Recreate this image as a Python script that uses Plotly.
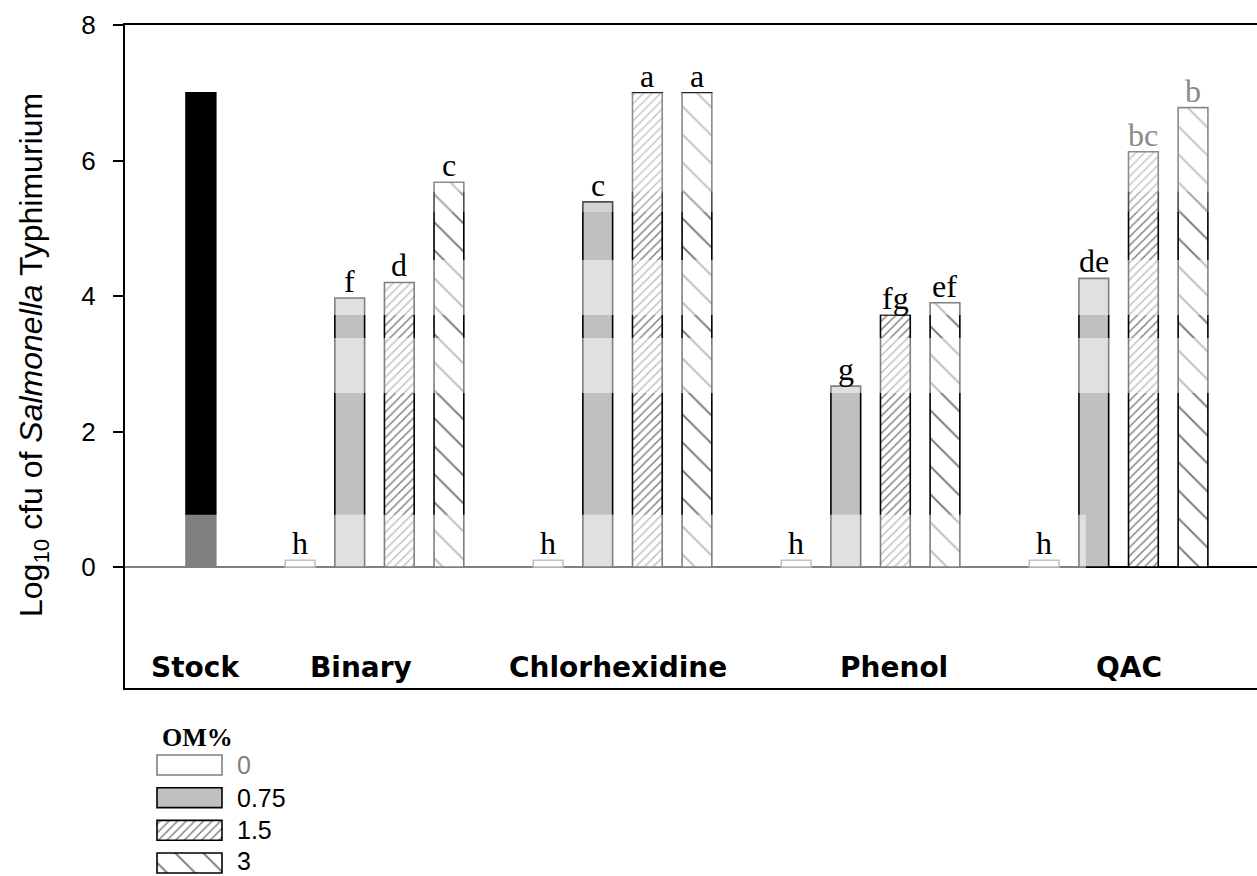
import plotly.graph_objects as go

W, H = 1257, 876

# ---------------- data ----------------
groups = ["Binary", "Chlorhexidine", "Phenol", "QAC"]
om_levels = ["0", "0.75", "1.5", "3"]
stock_label = "Stock"
stock_value = [7.0]

om_0 = [0.10, 0.10, 0.10, 0.10]
om_075 = [3.97, 5.39, 2.67, 4.26]
om_15 = [4.20, 7.00, 3.72, 6.13]
om_3 = [5.68, 7.00, 3.90, 6.78]

letters_0 = ["h", "h", "h", "h"]
letters_075 = ["f", "c", "g", "de"]
letters_15 = ["d", "a", "fg", "bc"]
letters_3 = ["c", "a", "ef", "b"]

y_ticks = [0, 2, 4, 6, 8]

# ---------------- layout helpers ----------------
series_vals = [om_0, om_075, om_15, om_3]
series_letters = [letters_0, letters_075, letters_15, letters_3]
letter_colors = [["black"] * 4, ["black"] * 4, ["black", "black", "black", "#8a8a8a"],
                 ["black", "black", "black", "#8a8a8a"]]

def slot(gi, si):
    return 2 + 5 * gi + si

styles = [
    dict(color="white", line=dict(color="#808080", width=1.6)),
    dict(color="#c0c0c0", line=dict(color="black", width=1.6)),
    dict(color="white", line=dict(color="black", width=1.6),
         pattern=dict(shape="/", fgcolor="black", bgcolor="white", size=6.1,
                      solidity=0.24, fillmode="overlay")),
    dict(color="white", line=dict(color="black", width=1.6),
         pattern=dict(shape="\\", fgcolor="black", bgcolor="white", size=19.8,
                      solidity=0.1, fillmode="overlay")),
]

BAR_W = 0.6
fig = go.Figure()

# stock bar
fig.add_trace(go.Bar(x=[0], y=stock_value, width=BAR_W,
                     marker=dict(color="black", line=dict(color="black", width=1.6)),
                     showlegend=False, xaxis="x", yaxis="y"))

for si, vals in enumerate(series_vals):
    xs = [slot(gi, si) for gi in range(len(groups))]
    fig.add_trace(go.Bar(x=xs, y=vals, width=BAR_W, marker=styles[si],
                         name=om_levels[si], showlegend=False, xaxis="x", yaxis="y"))

annotations = []
for si, vals in enumerate(series_vals):
    for gi, v in enumerate(vals):
        annotations.append(dict(x=slot(gi, si), y=v, xref="x", yref="y",
                                text=series_letters[si][gi], showarrow=False,
                                yanchor="bottom", yshift=-3,
                                font=dict(family="Liberation Serif, Times New Roman", size=32,
                                          color=letter_colors[si][gi])))

# group labels
group_label_x = [3.23, 8.4, 13.97, 18.7]
label_y = -1.49
annotations.append(dict(x=-0.1, y=label_y, xref="x", yref="y", text="<b>" + stock_label + "</b>",
                        showarrow=False, font=dict(family="DejaVu Sans", size=28, color="black")))
for gi, g in enumerate(groups):
    annotations.append(dict(x=group_label_x[gi], y=label_y, xref="x", yref="y",
                            text="<b>" + g + "</b>", showarrow=False,
                            font=dict(family="DejaVu Sans", size=28, color="black")))

# y title
annotations.append(dict(x=33 / W, y=(H - 355) / H, xref="paper", yref="paper",
                        text="Log<sub>10</sub> cfu of <i>Salmonella</i> Typhimurium",
                        textangle=-90, showarrow=False, xanchor="center", yanchor="middle",
                        font=dict(family="Liberation Sans, Arial", size=32, color="black")))

# ---------------- legend (drawn as a small subplot) ----------------
leg_rows = [0, 1, 2, 3]
leg_row_px = [765, 797.7, 830.3, 861]
for si in range(4):
    fig.add_trace(go.Bar(y=[leg_rows[si]], x=[1], orientation="h", width=0.61,
                         marker=styles[si], showlegend=False, xaxis="x2", yaxis="y2"))

annotations.append(dict(x=160 / W, y=(H - 737) / H, xref="paper", yref="paper",
                        text="<b>OM%</b>", showarrow=False, xanchor="left", yanchor="middle",
                        font=dict(family="Liberation Serif, Times New Roman", size=26, color="black")))
legend_text_colors = ["#808080", "black", "black", "black"]
for si, lab in enumerate(om_levels):
    annotations.append(dict(x=235 / W, y=(H - leg_row_px[si]) / H, xref="paper", yref="paper",
                            text=lab, showarrow=False, xanchor="left", yanchor="middle",
                            font=dict(family="Liberation Sans, Arial", size=25,
                                      color=legend_text_colors[si])))

# ---------------- light rendering bands of the original ----------------
band_y = [(5.54, 7.0, 0.55), (5.24, 5.54, 0.3), (3.72, 4.53, 0.5), (2.57, 3.38, 0.5)]
band_x = (1.6, 20.45)
shapes = []
for y0, y1, op in band_y:
    shapes.append(dict(type="rect", xref="x", yref="y", x0=band_x[0], x1=band_x[1],
                       y0=y0, y1=y1, fillcolor="white", opacity=op, line=dict(width=0),
                       layer="above"))
shapes.append(dict(type="rect", xref="x", yref="y", x0=-1.75, x1=17.84, y0=-0.04, y1=0.77,
                   fillcolor="white", opacity=0.5, line=dict(width=0), layer="above"))

fig.update_layout(
    width=W, height=H, template="none",
    margin=dict(l=0, r=0, t=0, b=0),
    paper_bgcolor="white", plot_bgcolor="white",
    barmode="overlay", showlegend=False,
    xaxis=dict(domain=[125 / W, 1.0], range=[-1.53, 21.29], showgrid=False, zeroline=False,
               showline=True, linecolor="black", linewidth=2, mirror=True,
               showticklabels=False, ticks="", automargin=False, fixedrange=True),
    yaxis=dict(domain=[(H - 688) / H, (H - 25) / H], range=[-1.786, 8], tickvals=y_ticks,
               ticks="outside", ticklen=10, tickwidth=1.6, tickcolor="black",
               showline=True, linecolor="black", linewidth=2, showgrid=False,
               zeroline=True, zerolinecolor="black", zerolinewidth=2,
               tickfont=dict(family="Liberation Sans, Arial", size=26, color="black"),
               ticklabelstandoff=12, automargin=False),
    xaxis2=dict(domain=[155 / W, 224 / W], range=[-2 / 65, 1 + 2 / 65], visible=False,
                anchor="y2", automargin=False),
    yaxis2=dict(domain=[0, (H - 748.7) / H], range=[3.398, -0.5], visible=False,
                anchor="x2", automargin=False),
    annotations=annotations,
    shapes=shapes,
)

fig.write_html("out.html")
